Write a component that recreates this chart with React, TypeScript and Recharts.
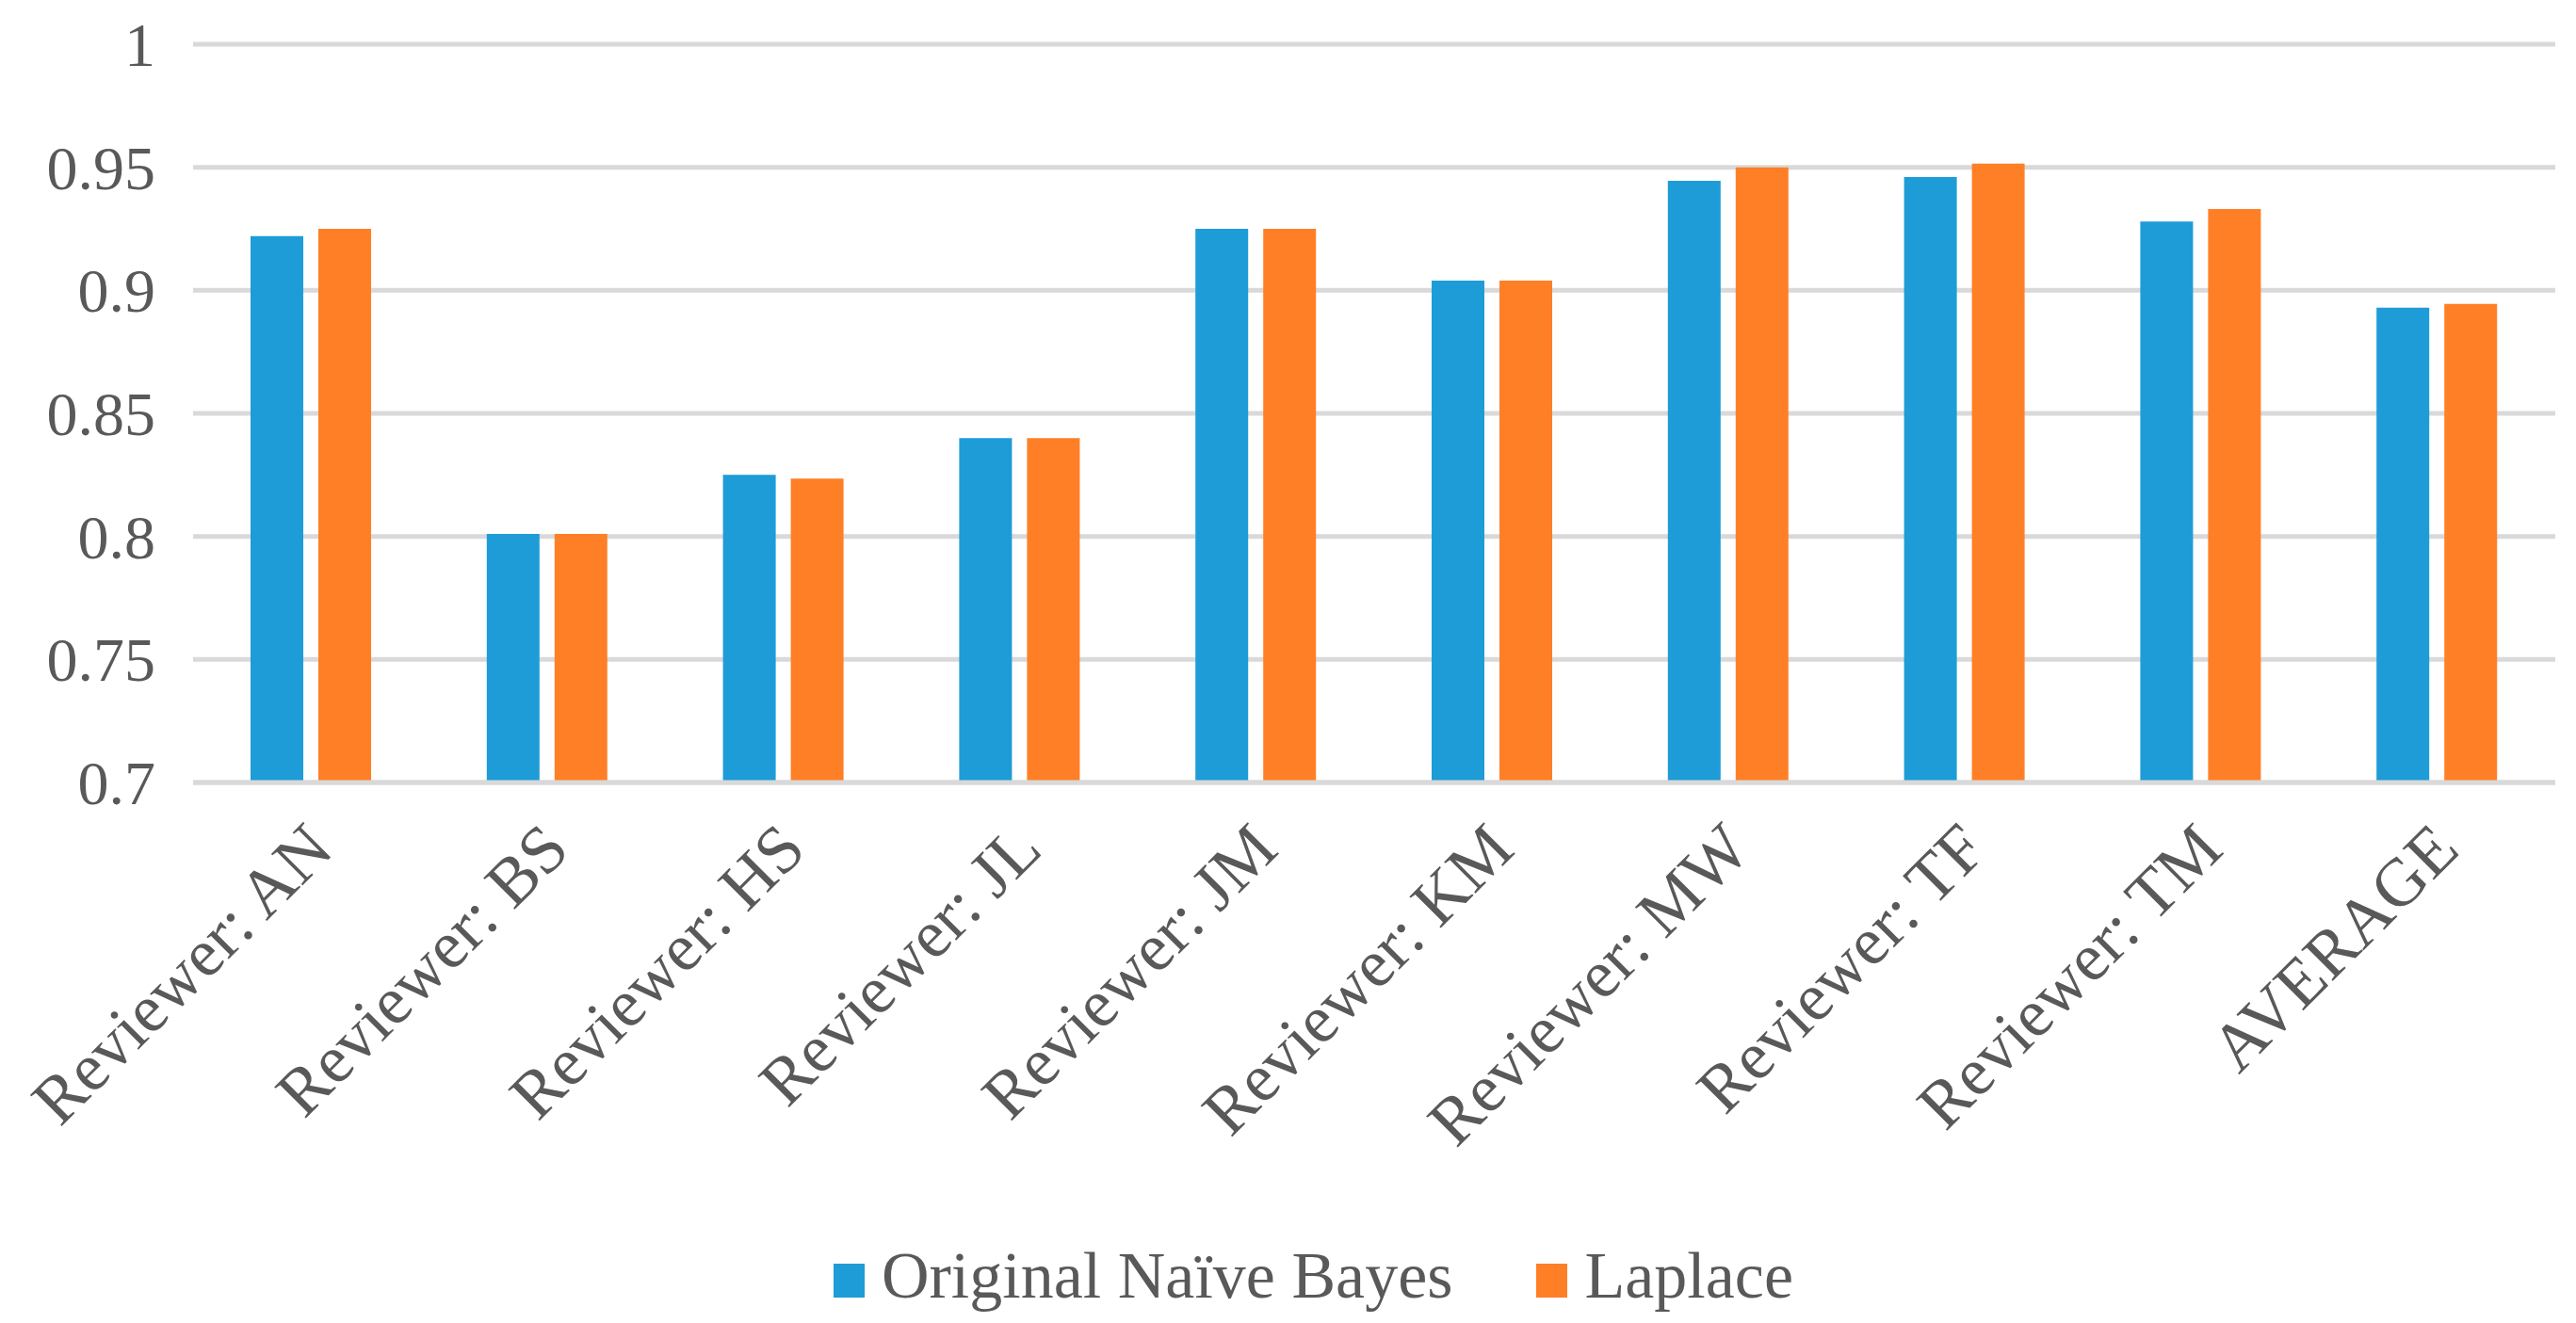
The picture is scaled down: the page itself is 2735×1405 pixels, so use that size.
import React from 'react';
import { BarChart, Bar, XAxis, YAxis, CartesianGrid, Legend } from 'recharts';

const categories = [
    'Reviewer: AN',
    'Reviewer: BS',
    'Reviewer: HS',
    'Reviewer: JL',
    'Reviewer: JM',
    'Reviewer: KM',
    'Reviewer: MW',
    'Reviewer: TF',
    'Reviewer: TM',
    'AVERAGE',
];
const originalNaiveBayes = [0.922, 0.801, 0.825, 0.840, 0.925, 0.904, 0.9445, 0.946, 0.928, 0.893];
const laplace = [0.925, 0.801, 0.8235, 0.840, 0.925, 0.904, 0.950, 0.9515, 0.933, 0.8945];
const yTicks = [0.7, 0.75, 0.8, 0.85, 0.9, 0.95, 1];

const seriesNames = ['Original Naïve Bayes', 'Laplace'];
const BLUE = '#1e9cd7';
const ORANGE = '#ff7f27';
const TEXT = '#595959';
const FONT = '"Liberation Serif", "Times New Roman", serif';

const data = categories.map((name, i) => ({
    name,
    naive: originalNaiveBayes[i],
    laplace: laplace[i],
}));

// eslint-disable-next-line @typescript-eslint/no-explicit-any
const renderXTick = (props: any) => {
    const { x, y, payload } = props;
    const ax = x + 26;
    const ay = y + 66;
    return (
        <text
            x={ax}
            y={ay}
            textAnchor="end"
            fill={TEXT}
            fontSize={72}
            fontFamily={FONT}
            transform={`rotate(-45, ${ax}, ${ay})`}
        >
            {payload.value}
        </text>
    );
};

// eslint-disable-next-line @typescript-eslint/no-explicit-any
const renderYTick = (props: any) => {
    const { y, payload } = props;
    return (
        <text
            x={165}
            y={y}
            dy="0.35em"
            textAnchor="end"
            fill={TEXT}
            fontSize={66}
            fontFamily={FONT}
        >
            {payload.value}
        </text>
    );
};

const renderLegend = () => {
    const colors = [BLUE, ORANGE];
    return (
        <div style={{ display: 'flex', alignItems: 'center', paddingLeft: 885, fontFamily: FONT, fontSize: 70, color: TEXT, lineHeight: 1 }}>
            {seriesNames.map((name, i) => (
                <div key={name} style={{ display: 'flex', alignItems: 'center', marginRight: i === 0 ? 89 : 0 }}>
                    <span style={{ display: 'inline-block', width: 33, height: 36, background: colors[i], marginRight: 18, marginTop: 10 }} />
                    <span>{name}</span>
                </div>
            ))}
        </div>
    );
};

const App: React.FC = () => {
    return (
        <div style={{ position: 'absolute', left: 0, top: 0, width: 2735, height: 1405, background: '#fff' }}>
            <BarChart
                width={2735}
                height={1405}
                data={data}
                margin={{ top: 47, right: 22, left: 0, bottom: 0 }}
                barSize={56}
                barGap={16}
            >
                <CartesianGrid vertical={false} stroke="#d9d9d9" strokeWidth={5} />
                <YAxis
                    width={205}
                    domain={[0.7, 1]}
                    ticks={yTicks}
                    axisLine={false}
                    tickLine={false}
                    tick={renderYTick}
                    allowDataOverflow
                />
                <Bar dataKey="naive" name={seriesNames[0]} fill={BLUE} isAnimationActive={false} />
                <Bar dataKey="laplace" name={seriesNames[1]} fill={ORANGE} isAnimationActive={false} />
                <XAxis
                    dataKey="name"
                    height={574}
                    interval={0}
                    axisLine={{ stroke: '#d9d9d9', strokeWidth: 5 }}
                    tickLine={false}
                    tick={renderXTick}
                />
                <Legend
                    layout="horizontal"
                    verticalAlign="middle"
                    align="center"
                    wrapperStyle={{ top: 1320, left: 0, width: 2735 }}
                    content={renderLegend}
                />
            </BarChart>
        </div>
    );
};

export default App;
